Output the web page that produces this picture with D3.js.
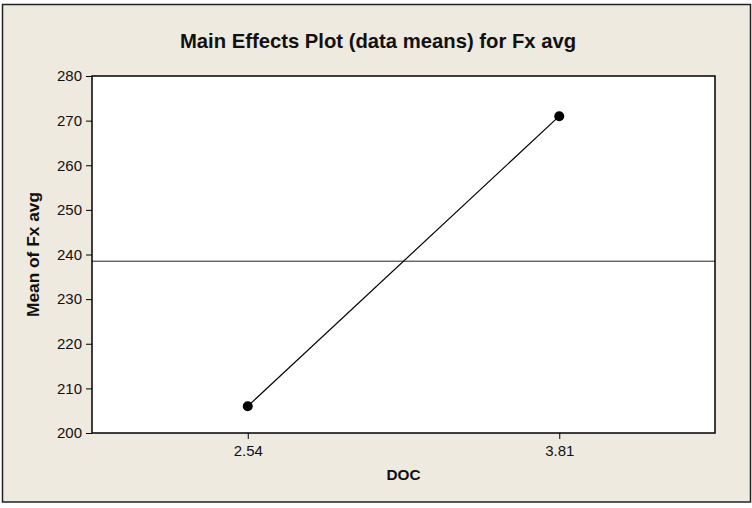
<!DOCTYPE html>
<html><head><meta charset="utf-8">
<script src="https://cdn.jsdelivr.net/npm/d3@7"></script>
<style>body{margin:0;background:#fff}svg{display:block}</style>
</head><body>
<svg id="c" width="752" height="508"></svg>
<script>
const title = "Main Effects Plot (data means) for Fx avg";
const xLabel = "DOC";
const yLabel = "Mean of Fx avg";
const levels = ["2.54", "3.81"];
const means = [206, 271];
const grandMean = 238.5;
const yTicks = [200, 210, 220, 230, 240, 250, 260, 270, 280];

const svg = d3.select("#c");
const font = "Liberation Sans, Arial, sans-serif";
const m = {left: 92, right: 715, top: 76, bottom: 433};

function fit(sel, target) {
  let fs = +sel.attr("font-size");
  for (let i = 0; i < 3; i++) {
    const w = sel.node().getComputedTextLength();
    if (w > 0) { fs = fs * target / w; sel.attr("font-size", fs); }
  }
  return sel;
}

svg.append("rect").attr("x", 2.5).attr("y", 4.5).attr("width", 748).attr("height", 497.5)
  .attr("fill", "#EEEAE0").attr("stroke", "#222").attr("stroke-width", 1.5);

const x = d3.scalePoint().domain(levels).range([m.left, m.right]).padding(0.5);
const y = d3.scaleLinear().domain([200, 280]).range([m.bottom, m.top]);

svg.append("rect").attr("x", m.left).attr("y", m.top)
  .attr("width", m.right - m.left).attr("height", m.bottom - m.top)
  .attr("fill", "#fff");

svg.append("line").attr("x1", m.left).attr("x2", m.right)
  .attr("y1", y(grandMean)).attr("y2", y(grandMean))
  .attr("stroke", "#222").attr("stroke-width", 1);

const data = levels.map((l, i) => ({l, v: means[i]}));
svg.append("path").datum(data)
  .attr("d", d3.line().x(d => x(d.l)).y(d => y(d.v)))
  .attr("fill", "none").attr("stroke", "#000").attr("stroke-width", 1.2);
svg.selectAll("circle.pt").data(data).join("circle")
  .attr("cx", d => x(d.l)).attr("cy", d => y(d.v)).attr("r", 5).attr("fill", "#000");

svg.append("rect").attr("x", m.left).attr("y", m.top)
  .attr("width", m.right - m.left).attr("height", m.bottom - m.top)
  .attr("fill", "none").attr("stroke", "#000").attr("stroke-width", 1.5);

const yAxis = svg.append("g").attr("transform", `translate(${m.left},0)`)
  .call(d3.axisLeft(y).tickValues(yTicks).tickSize(6).tickPadding(4).tickFormat(d3.format("d")));
const xAxis = svg.append("g").attr("transform", `translate(0,${m.bottom})`)
  .call(d3.axisBottom(x).tickSize(6).tickPadding(6));
[yAxis, xAxis].forEach(g => {
  g.select(".domain").remove();
  g.selectAll("line").attr("stroke", "#000");
  g.selectAll("text").attr("font-family", font).attr("font-size", 15).attr("fill", "#111");
});

fit(svg.append("text").attr("x", 378).attr("y", 48).attr("text-anchor", "middle")
  .attr("font-family", font).attr("font-weight", "bold").attr("font-size", 17)
  .attr("fill", "#111").text(title), 396);
fit(svg.append("text").attr("x", (m.left + m.right) / 2).attr("y", 480).attr("text-anchor", "middle")
  .attr("font-family", font).attr("font-weight", "bold").attr("font-size", 16)
  .attr("fill", "#111").text(xLabel), 34);
fit(svg.append("text").attr("transform", `translate(39,${(m.top + m.bottom) / 2}) rotate(-90)`)
  .attr("text-anchor", "middle")
  .attr("font-family", font).attr("font-weight", "bold").attr("font-size", 15)
  .attr("fill", "#111").text(yLabel), 125);
</script>
</body></html>
